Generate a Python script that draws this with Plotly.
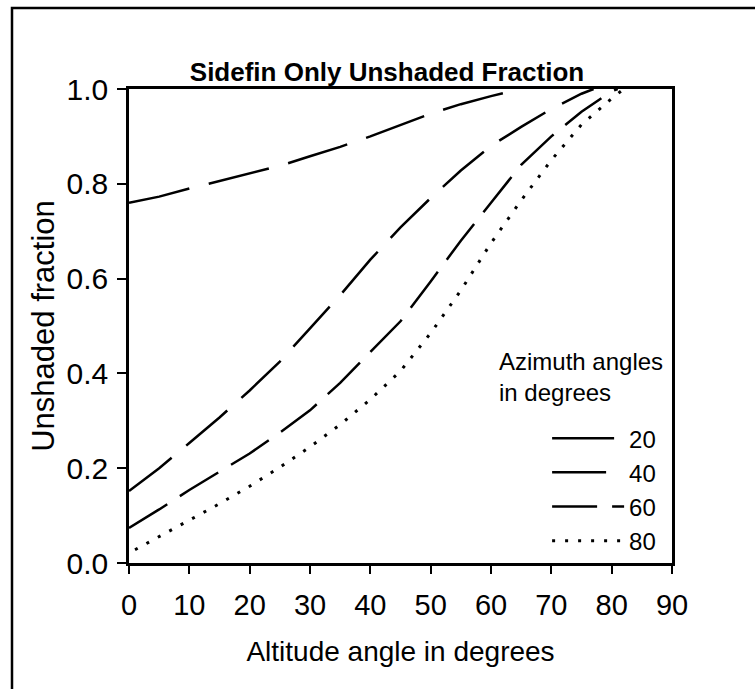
import plotly.graph_objects as go

# ---- data ----
alt_20 = [0, 5, 10, 15, 20, 25, 30, 35, 40, 45, 50, 55, 60, 65]
frac_20 = [0.76, 0.773, 0.79, 0.806, 0.822, 0.838, 0.858, 0.878, 0.90, 0.924, 0.948, 0.968, 0.985, 1.0]

alt_40 = [0, 5, 10, 15, 20, 25, 30, 35, 40, 45, 50, 55, 60, 65, 70, 75, 77]
frac_40 = [0.152, 0.2, 0.253, 0.307, 0.364, 0.425, 0.495, 0.565, 0.64, 0.708, 0.77, 0.828, 0.88, 0.92, 0.958, 0.99, 1.0]

alt_60 = [0, 5, 10, 15, 20, 25, 30, 35, 40, 45, 50, 55, 60, 65, 70, 75, 80, 81]
frac_60 = [0.074, 0.113, 0.154, 0.192, 0.231, 0.275, 0.322, 0.38, 0.445, 0.51, 0.594, 0.68, 0.76, 0.84, 0.9, 0.952, 0.995, 1.0]

alt_80 = [1, 5, 10, 15, 20, 25, 30, 35, 40, 45, 50, 55, 60, 65, 70, 75, 80, 82]
frac_80 = [0.028, 0.056, 0.09, 0.125, 0.162, 0.202, 0.245, 0.292, 0.345, 0.405, 0.485, 0.575, 0.675, 0.765, 0.85, 0.925, 0.98, 1.0]

series_names = ["20", "40", "60", "80"]
x_ticks = [0, 10, 20, 30, 40, 50, 60, 70, 80, 90]
y_ticks = [0.0, 0.2, 0.4, 0.6, 0.8, 1.0]

FONT = "Liberation Sans, Arial, Helvetica, sans-serif"

styles = [
    dict(dash="62px,20px", width=2.5),
    dict(dash="54px,19px", width=2.5),
    dict(dash="45px,15px", width=2.5),
    dict(dash="3px,10px", width=3),
]
data = [(alt_20, frac_20), (alt_40, frac_40), (alt_60, frac_60), (alt_80, frac_80)]

fig = go.Figure()
for name, (xs, ys), st in zip(series_names, data, styles):
    fig.add_trace(go.Scatter(
        x=xs, y=ys, mode="lines", name=name,
        line=dict(color="black", width=st["width"], dash=st["dash"]),
    ))

fig.update_layout(
    width=755, height=689,
    margin=dict(l=129, r=83, t=89, b=126),
    paper_bgcolor="white", plot_bgcolor="white",
    font=dict(family=FONT, color="black", size=29),
    title=dict(
        text="<b>Sidefin Only Unshaded Fraction</b>",
        x=387 / 755, xref="container", xanchor="center",
        y=1 - 72 / 689, yref="container", yanchor="middle",
        font=dict(size=26, family=FONT, color="black"),
    ),
    showlegend=True,
    legend=dict(
        x=0.77, y=0.31, xanchor="left", yanchor="top",
        bgcolor="rgba(0,0,0,0)", borderwidth=0,
        font=dict(size=24, family=FONT, color="black"),
        itemwidth=72, tracegroupgap=0,
    ),
)

fig.update_xaxes(
    range=[0, 90], tickvals=x_ticks, ticks="outside", ticklen=8, tickwidth=1.5,
    tickcolor="black", showline=True, linecolor="black", linewidth=2.5, mirror=True,
    showgrid=False, zeroline=False, ticklabelstandoff=6,
    tickfont=dict(size=29, family=FONT),
    title=dict(text="Altitude angle in degrees", font=dict(size=28, family=FONT), standoff=22),
)
fig.update_yaxes(
    range=[0, 1], tickvals=y_ticks, tickformat=".1f", ticks="outside", ticklen=9, tickwidth=1.5,
    tickcolor="black", showline=True, linecolor="black", linewidth=2.5, mirror=True,
    showgrid=False, zeroline=False, ticklabelstandoff=3,
    tickfont=dict(size=30, family=FONT),
    title=dict(text="Unshaded fraction", font=dict(size=31, family=FONT), standoff=3),
)

fig.add_annotation(
    text="Azimuth angles<br>in degrees", xref="paper", yref="paper",
    x=(497 - 129) / 543, y=(563 - 346) / 474, xanchor="left", yanchor="top",
    align="left", showarrow=False, font=dict(size=24, family=FONT, color="black"),
)

# outer frame of the figure
fig.add_shape(
    type="rect", xref="paper", yref="paper",
    x0=(12 - 129) / 543, x1=(762 - 129) / 543,
    y0=(563 - 700) / 474, y1=(563 - 8) / 474,
    line=dict(color="black", width=2.5), layer="below",
)

fig.write_html("out.html")
